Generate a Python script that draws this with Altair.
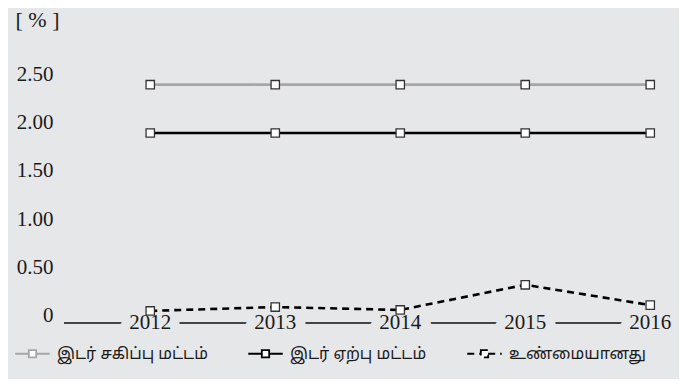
import altair as alt
import pandas as pd

years = [2012, 2013, 2014, 2015, 2016]
series_names = ["இடர் சகிப்பு மட்டம்", "இடர் ஏற்பு மட்டம்", "உண்மையானது"]
tolerance = [2.4, 2.4, 2.4, 2.4, 2.4]
acceptance = [1.9, 1.9, 1.9, 1.9, 1.9]
actual = [0.06, 0.10, 0.07, 0.33, 0.12]
y_ticks = [0, 0.5, 1.0, 1.5, 2.0, 2.5]

BG = "#e6e7e9"
SERIF = "Liberation Serif"
TAMIL = "Noto Sans Tamil, Noto Sans, Lohit Tamil, sans-serif"

rows = []
for name, vals in zip(series_names, [tolerance, acceptance, actual]):
    for yr, v in zip(years, vals):
        rows.append({"year": yr, "value": v, "series": name})
df = pd.DataFrame(rows)
years_df = pd.DataFrame({"year": years, "label": [str(y) for y in years]})

W, H = 605, 248
xscale = alt.Scale(domain=[2011.31, 2016.15], nice=False, zero=False)
yscale = alt.Scale(domain=[-0.065, 2.5], nice=False, zero=False)

base_y = alt.Y(
    "value:Q",
    scale=yscale,
    axis=alt.Axis(
        values=y_ticks,
        grid=False,
        domain=False,
        ticks=False,
        labelFont=SERIF,
        labelFontSize=21,
        labelColor="#1a1a1a",
        labelPadding=11,
        labelBaseline="middle",
        labelAlign="right",
        labelOffset=-1,
        labelExpr="datum.value == 0 ? '0' : format(datum.value, '.2f')",
        title="[ % ]",
        titleAngle=0,
        titleFont=SERIF,
        titleFontSize=22,
        titleFontWeight="normal",
        titleColor="#1a1a1a",
        titleAlign="left",
        titleBaseline="alphabetic",
        titleX=-49,
        titleY=-49,
    ),
)

zero_rule = alt.Chart(years_df).mark_rule(color="#444444", strokeWidth=1.3).encode(
    y=alt.value(H),
    x=alt.value(0),
    x2=alt.value(W),
)

label_knock = alt.Chart(years_df).mark_text(
    font=SERIF, fontSize=21, baseline="middle", align="center",
    stroke=BG, strokeWidth=20, strokeJoin="round", fill=BG,
).encode(
    x=alt.X("year:Q", scale=xscale, axis=None),
    y=alt.value(H),
    text="label:N",
)

labels = alt.Chart(years_df).mark_text(
    font=SERIF, fontSize=21, baseline="middle", align="center", color="#1a1a1a",
).encode(
    x=alt.X("year:Q", scale=xscale, axis=None),
    y=alt.value(H),
    text="label:N",
)

legend_path = "M-1.5,0H-0.32M0.32,0H1.5M-0.32,-0.32H0.32V0.32H-0.32Z"

lines = alt.Chart(df).mark_line(strokeWidth=2.6).encode(
    x=alt.X("year:Q", scale=xscale, axis=None),
    y=base_y,
    color=alt.Color(
        "series:N",
        scale=alt.Scale(domain=series_names, range=["#a6a6a6", "#000000", "#000000"]),
        legend=alt.Legend(
            title=None,
            orient="none",
            direction="horizontal",
            columns=3,
            legendX=-44,
            legendY=266,
            symbolType=legend_path,
            symbolSize=529,
            symbolStrokeWidth=1.8,
            symbolFillColor="white",
            labelFont=TAMIL,
            labelFontSize=16,
            labelColor="#1a1a1a",
            labelOffset=12,
            labelLimit=300,
            columnPadding=36,
            gridAlign="each",
        ),
    ),
    strokeDash=alt.StrokeDash(
        "series:N",
        scale=alt.Scale(domain=series_names, range=[[1, 0], [1, 0], [7, 5]]),
        legend=alt.Legend(title=None),
    ),
)

points = alt.Chart(df).mark_point(
    shape="square", filled=True, fill="white", stroke="#333333", strokeWidth=1.3,
    size=70, opacity=1,
).encode(
    x=alt.X("year:Q", scale=xscale, axis=None),
    y=alt.Y("value:Q", scale=yscale),
)

chart = alt.layer(zero_rule, label_knock, labels, lines, points).properties(
    width=W,
    height=H,
    padding={"left": 56, "top": 67, "right": 10, "bottom": 56},
    autosize=alt.AutoSizeParams(type="none"),
    background=BG,
).configure_view(stroke=None)

chart.save("out.html", embed_options={"renderer": "svg", "actions": False})
